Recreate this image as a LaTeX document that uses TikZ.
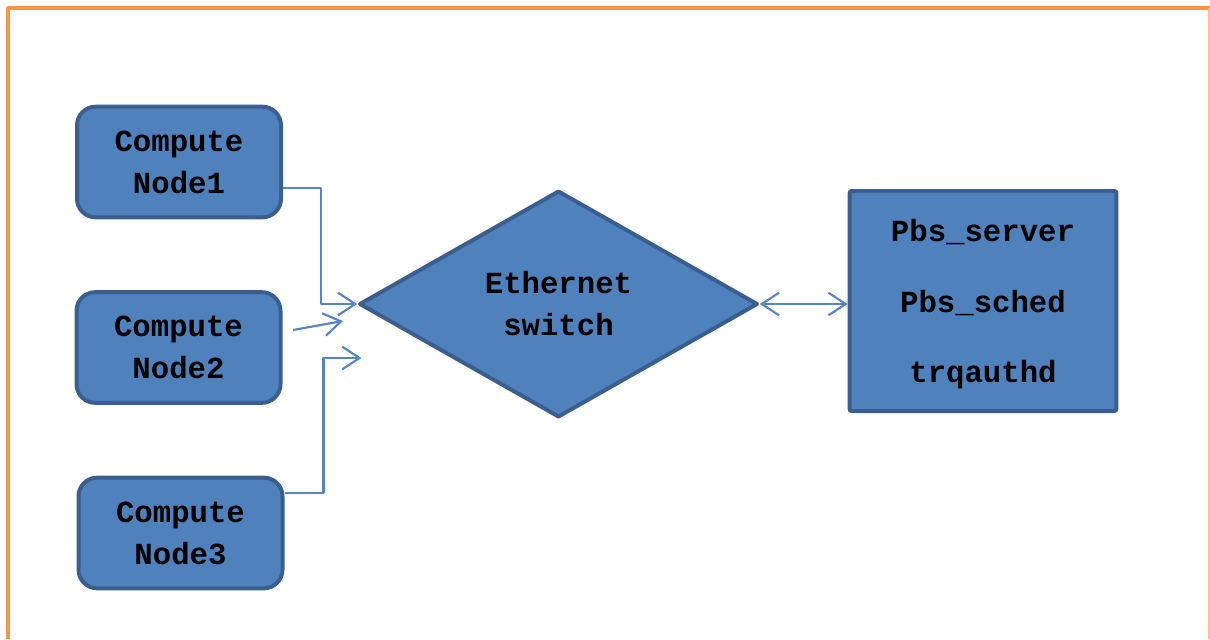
\documentclass[tikz,border=0pt]{standalone}
\usepackage{fontspec}
\setmonofont{Liberation Mono}
\usetikzlibrary{shapes.geometric,arrows.meta}
\definecolor{boxfill}{HTML}{4F81BD}
\definecolor{boxline}{HTML}{3A5F8F}
\definecolor{linkcol}{HTML}{5585C2}
\definecolor{frame}{HTML}{F79646}
\begin{document}
\begin{tikzpicture}[x=0.75pt, y=-0.75pt, line join=round,
  txt/.style={font=\ttfamily\bfseries\fontsize{23}{31.5}\selectfont, align=center, text=black},
  compute/.style={txt, draw=boxline, fill=boxfill, line width=3pt, rounded corners=14pt,
    minimum width=153pt, minimum height=83pt, inner sep=0pt},
  switchbox/.style={txt, diamond, aspect=1.75, draw=boxline, fill=boxfill, line width=3pt,
    minimum width=299pt, minimum height=170pt, inner sep=0pt},
  serverbox/.style={draw=boxline, fill=boxfill, line width=3pt, rounded corners=1.5pt,
    minimum width=200pt, minimum height=165pt, inner sep=0pt},
  link/.style={draw=linkcol, line width=1.6pt, -{Straight Barb[length=13pt, width=17pt, line width=1.6pt]}},
  dlink/.style={link, {Straight Barb[length=13pt, width=17pt, line width=1.6pt]}-{Straight Barb[length=13pt, width=17pt, line width=1.6pt]}}]
  \useasboundingbox (0,0) rectangle (1210,639);
  % frame
  \draw[frame, line width=3.5pt] (8,639) -- (8,8) -- (1210,8);
  \draw[frame!60, line width=1pt] (1209,8) -- (1209,639);
  % nodes
  \node[compute] (n1) at (179,162) {Compute\\Node1};
  \node[compute] (n2) at (178.5,347.5) {Compute\\Node2};
  \node[compute] (n3) at (180.5,533) {Compute\\Node3};
  \node[switchbox] (sw) at (558.5,304) {Ethernet\\switch};
  \node[serverbox] (srv) at (983,301) {};
  \foreach \t/\y in {Pbs\_server/232, Pbs\_sched/303, trqauthd/375}
    \node[txt] at (983,\y) {\t};
  % links
  \path (293,330) coordinate (s2) (343,321) coordinate (e2);
  \draw[link] (n1.east) ++(0,26) -- ++(38,0) |- (sw.west);
  \draw[link] (s2) -- (e2);
  \draw[link] (n3.east) ++(0,-40) -- ++(39,0) -- ++(0,-135) -- ++(38,0);
  \draw[dlink] (sw.east) -- (srv.west |- sw.east);
\end{tikzpicture}
\end{document}
